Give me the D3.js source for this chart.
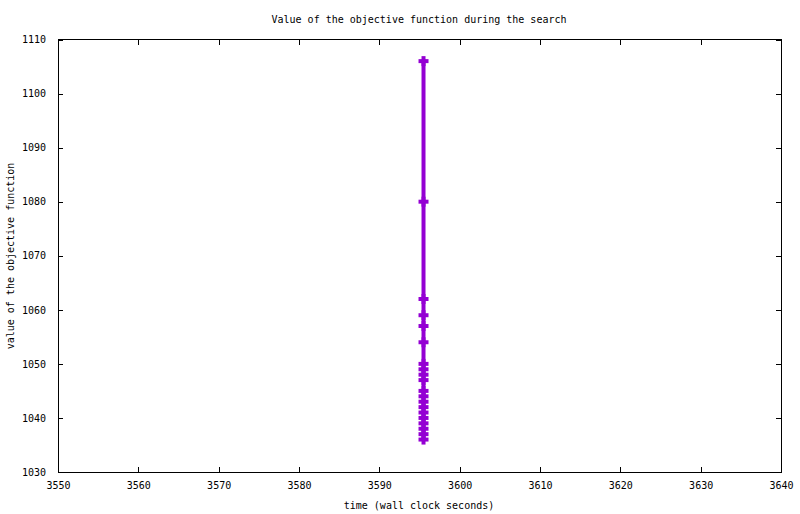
<!DOCTYPE html>
<html>
<head>
<meta charset="utf-8">
<script src="https://cdn.jsdelivr.net/npm/d3@7"></script>
<style>
  body { margin: 0; background: #fff; }
  text { font-family: "DejaVu Sans Mono", monospace; font-size: 10px; fill: #000; }
</style>
</head>
<body>
<svg id="chart" width="800" height="514"></svg>
<script>
// objective value at each improvement, all found at about the same wall clock time
const times = [3595.5, 3595.5, 3595.5, 3595.5, 3595.5, 3595.5, 3595.5, 3595.5, 3595.5,
  3595.5, 3595.5, 3595.5, 3595.5, 3595.5, 3595.5, 3595.5, 3595.5, 3595.5, 3595.5, 3595.5]
const values = [1106, 1080, 1062, 1059, 1057, 1054, 1050, 1049, 1048, 1047,
  1045, 1044, 1043, 1042, 1041, 1040, 1039, 1038, 1037, 1036]
const xTicks = [3550, 3560, 3570, 3580, 3590, 3600, 3610, 3620, 3630, 3640]
const yTicks = [1030, 1040, 1050, 1060, 1070, 1080, 1090, 1100, 1110]

const svg = d3.select('#chart')
const margin = {top: 39.5, right: 19, bottom: 42, left: 58}
const width = 800 - margin.left - margin.right,
  height = 514 - margin.top - margin.bottom
const color = '#9400d3'

const g = svg.append('g').attr('transform', 'translate(' + margin.left + ',' + margin.top + ')')

const x = d3.scaleLinear().domain([3550, 3640]).range([0, width])
const y = d3.scaleLinear().domain([1030, 1110]).range([height, 0])

// ticks on all four sides, pointing inward
function styleAxis(sel) {
  sel.select('.domain').remove()
  sel.selectAll('line').attr('stroke', '#000').attr('shape-rendering', 'crispEdges')
}

g.append('g').attr('transform', 'translate(0,' + height + ')')
  .call(d3.axisBottom(x).tickValues(xTicks).tickSize(-5).tickPadding(10).tickFormat(d3.format('d')))
  .call(styleAxis)
g.append('g')
  .call(d3.axisTop(x).tickValues(xTicks).tickSize(-5).tickFormat(''))
  .call(styleAxis)
g.append('g')
  .call(d3.axisLeft(y).tickValues(yTicks).tickSize(-5).tickPadding(12).tickFormat(d3.format('d')))
  .call(styleAxis)
g.append('g').attr('transform', 'translate(' + width + ',0)')
  .call(d3.axisRight(y).tickValues(yTicks).tickSize(-5).tickFormat(''))
  .call(styleAxis)

g.selectAll('.tick text').style('font-family', '"DejaVu Sans Mono", monospace').style('font-size', '10px')

g.append('rect')
  .attr('width', width).attr('height', height)
  .attr('fill', 'none').attr('stroke', '#000').attr('shape-rendering', 'crispEdges')

const pts = values.map((v, i) => [times[i], v])

g.append('path')
  .datum(pts)
  .attr('fill', 'none')
  .attr('stroke', color)
  .attr('stroke-width', 4)
  .attr('d', d3.line().x(d => x(d[0])).y(d => y(d[1])))

const marker = g.selectAll('.pt').data(pts).enter().append('g')
  .attr('transform', d => 'translate(' + x(d[0]) + ',' + y(d[1]) + ')')
marker.append('line').attr('x1', -5).attr('x2', 5).attr('stroke', color).attr('stroke-width', 4)
marker.append('line').attr('y1', -5).attr('y2', 5).attr('stroke', color).attr('stroke-width', 4)

svg.append('text').attr('x', 419).attr('y', 23).attr('text-anchor', 'middle')
  .text('Value of the objective function during the search')
svg.append('text').attr('x', 419).attr('y', 509).attr('text-anchor', 'middle')
  .text('time (wall clock seconds)')
svg.append('text').attr('transform', 'translate(14,256) rotate(-90)').attr('text-anchor', 'middle')
  .text('value of the objective function')
</script>
</body>
</html>
